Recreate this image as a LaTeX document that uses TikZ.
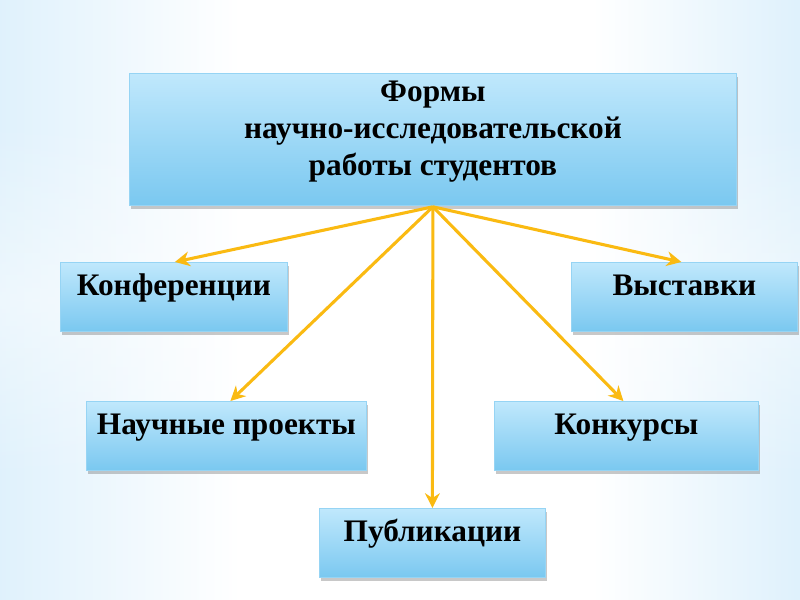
\documentclass[tikz,border=0pt]{standalone}
\usepackage{fontspec}
\setmainfont{Liberation Serif}
\usetikzlibrary{arrows.meta,shadows,calc,fadings}
\definecolor{bgblue}{RGB}{148,205,243}
\definecolor{bgmid}{RGB}{200,231,250}
\definecolor{boxtop}{RGB}{192,232,252}
\definecolor{boxbot}{RGB}{122,200,240}
\definecolor{boxline}{RGB}{150,212,244}
\definecolor{arrowc}{RGB}{250,186,18}
\pgfdeclarehorizontalshading{bgh}{100bp}{color(0bp)=(bgblue); color(14bp)=(bgmid); color(40bp)=(white); color(62bp)=(white); color(84bp)=(bgmid); color(100bp)=(bgblue)}
\tikzfading[name=bandfade, top color=transparent!100, bottom color=transparent!100, middle color=transparent!55]
\tikzset{
  box/.style={anchor=north west, inner sep=0pt, top color=boxtop, bottom color=boxbot,
    draw=boxline, line width=0.6pt,
    drop shadow={shadow xshift=1.5pt, shadow yshift=-2.5pt, opacity=0.3, fill=black!70}},
  lbl/.style={anchor=base, inner sep=0pt, font=\bfseries\fontsize{23.5pt}{28pt}\selectfont, text=black},
  arr/.style={draw=arrowc, line width=2.3pt, -{Stealth[length=11pt,width=11pt,inset=3.5pt]}}
}
\begin{document}
\begin{tikzpicture}[x=0.75pt,y=-0.75pt]
\useasboundingbox (0,0) rectangle (800,600);
\shade[shading=bgh] (0,0) rectangle (800,600);
\fill[white, path fading=bandfade] (0,120) rectangle (800,480);
% boxes
\node[box, minimum width=607*0.75pt, minimum height=132*0.75pt] (title) at (129,73) {};
\node[box, minimum width=227*0.75pt, minimum height=69*0.75pt] (konf) at (60,262) {};
\node[box, minimum width=226*0.75pt, minimum height=69*0.75pt] (vyst) at (571,262) {};
\node[box, minimum width=280*0.75pt, minimum height=69*0.75pt] (proj) at (86,401) {};
\node[box, minimum width=264*0.75pt, minimum height=69*0.75pt] (konk) at (494,401) {};
\node[box, minimum width=226*0.75pt, minimum height=69*0.75pt] (publ) at (319,508) {};
% labels
\node[lbl] (t1) at ($(title.north)+(0,28.5)$) {Формы};
\node[lbl] (t2) at ($(title.north)+(0,65.5)$) {научно-исследовательской};
\node[lbl] (t3) at ($(title.north)+(0,102)$) {работы студентов};
\node[lbl] (l1) at ($(konf.north)+(0,33)$) {Конференции};
\node[lbl] (l2) at ($(vyst.north)+(0,33)$) {Выставки};
\node[lbl] (l3) at ($(proj.north)+(0,33)$) {Научные проекты};
\node[lbl] (l4) at ($(konk.north)+(0,33)$) {Конкурсы};
\node[lbl] (l5) at ($(publ.north)+(0,33)$) {Публикации};
% arrows
\coordinate (src) at ($(title.south)+(0,1)$);
\draw[arr] (src) -- ($(konf.north)+(1,0)$);
\draw[arr] (src) -- ($(vyst.north)+(-3,0)$);
\draw[arr] (src) -- ($(proj.north)+(4,0)$);
\draw[arr] (src) -- ($(konk.north)+(-3,0)$);
\draw[arr] (src) -- (publ.north);
\end{tikzpicture}
\end{document}
